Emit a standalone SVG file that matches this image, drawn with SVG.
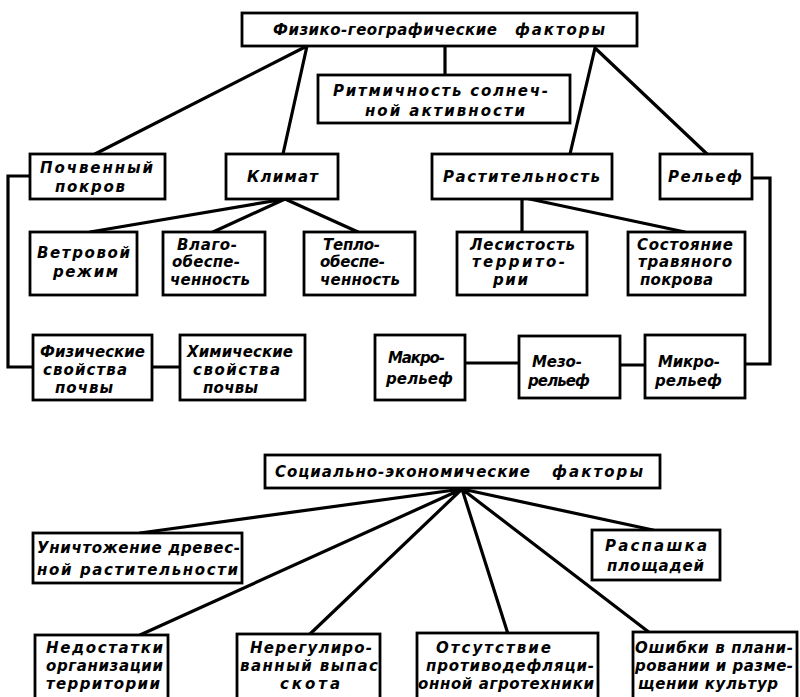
<svg xmlns="http://www.w3.org/2000/svg" width="800" height="697" viewBox="0 0 800 697">
<style>
.box{fill:#fff;stroke:#000;stroke-width:2.8}
.ln{fill:none;stroke:#000;stroke-width:3.2;stroke-linejoin:miter;stroke-linecap:round}
text{font-family:"DejaVu Sans","Liberation Sans",sans-serif;font-weight:bold;font-style:italic;font-size:15px;fill:#000}
</style>
<rect width="800" height="697" fill="#fff"/>
<g id="connectors">
<path class="ln" d="M307,46 L95,154 M307,46 L283,154 M445,46 L445,75 M595,48 L570,154 M595,48 L707,154"/>
<path class="ln" d="M30,176 L8,176 L8,367 L33,367 M152,367 L180,367"/>
<path class="ln" d="M285,199 L90,232 M285,199 L213,232 M285,199 L358,232"/>
<path class="ln" d="M522,198 L522,232 M525,198 L685,232"/>
<path class="ln" d="M752,178 L770,178 L770,364 L745,364 M465,363 L519,363 M620,365 L645,365"/>
<path class="ln" d="M462,489 L140,533 M462,489 L653,530 M462,489 L140,635 M462,489 L310,634 M462,489 L508,634 M462,489 L650,633"/>
</g>
<g id="n-phys"><rect class="box" x="242" y="13" width="395" height="33"/>
<text x="273" y="35" textLength="224">Физико-географические</text><text x="515" y="35" textLength="90">факторы</text></g>
<g id="n-ritm"><rect class="box" x="318" y="75" width="252" height="48"/>
<text x="333" y="96" textLength="215">Ритмичность солнеч-</text><text x="365" y="116" textLength="160">ной активности</text></g>
<g id="n-pochv"><rect class="box" x="30" y="154" width="135" height="45"/>
<text x="40" y="173" textLength="113">Почвенный</text><text x="55" y="192" textLength="70">покров</text></g>
<g id="n-klimat"><rect class="box" x="226" y="154" width="112" height="45"/>
<text x="247" y="182" textLength="71">Климат</text></g>
<g id="n-rast"><rect class="box" x="432" y="154" width="180" height="45"/>
<text x="443" y="182" textLength="157">Растительность</text></g>
<g id="n-relef"><rect class="box" x="660" y="154" width="92" height="45"/>
<text x="668" y="182" textLength="74">Рельеф</text></g>
<g id="n-veter"><rect class="box" x="30" y="232" width="107" height="63"/>
<text x="37" y="258" textLength="93">Ветровой</text><text x="53" y="277" textLength="65">режим</text></g>
<g id="n-vlago"><rect class="box" x="163" y="232" width="102" height="63"/>
<text x="177" y="250" textLength="60">Влаго-</text><text x="172" y="267" textLength="68">обеспе-</text><text x="170" y="285" textLength="80">ченность</text></g>
<g id="n-teplo"><rect class="box" x="304" y="232" width="111" height="63"/>
<text x="323" y="250" textLength="57">Тепло-</text><text x="320" y="267" textLength="65">обеспе-</text><text x="320" y="285" textLength="80">ченность</text></g>
<g id="n-les"><rect class="box" x="457" y="232" width="130" height="63"/>
<text x="470" y="250" textLength="105">Лесистость</text><text x="472" y="267" textLength="93">террито-</text><text x="493" y="285" textLength="35">рии</text></g>
<g id="n-sost"><rect class="box" x="628" y="232" width="117" height="63"/>
<text x="637" y="250" textLength="96">Состояние</text><text x="638" y="267" textLength="94">травяного</text><text x="640" y="285" textLength="73">покрова</text></g>
<g id="n-fiz"><rect class="box" x="33" y="335" width="119" height="65"/>
<text x="40" y="357" textLength="105">Физические</text><text x="43" y="375" textLength="84">свойства</text><text x="55" y="393" textLength="58">почвы</text></g>
<g id="n-xim"><rect class="box" x="180" y="335" width="125" height="65"/>
<text x="187" y="357" textLength="106">Химические</text><text x="193" y="375" textLength="87">свойства</text><text x="203" y="393" textLength="55">почвы</text></g>
<g id="n-makro"><rect class="box" x="375" y="335" width="90" height="65"/>
<text x="388" y="363" textLength="57">Макро-</text><text x="386" y="384" textLength="67">рельеф</text></g>
<g id="n-mezo"><rect class="box" x="519" y="336" width="101" height="62"/>
<text x="532" y="367" textLength="50">Мезо-</text><text x="528" y="386" textLength="62">рельеф</text></g>
<g id="n-mikro"><rect class="box" x="645" y="335" width="100" height="63"/>
<text x="658" y="367" textLength="62">Микро-</text><text x="655" y="386" textLength="67">рельеф</text></g>
<g id="n-soc"><rect class="box" x="265" y="455" width="395" height="33"/>
<text x="275" y="477" textLength="255">Социально-экономические</text><text x="552" y="477" textLength="91">факторы</text></g>
<g id="n-unich"><rect class="box" x="33" y="533" width="209" height="50"/>
<text x="37" y="553" textLength="203">Уничтожение древес-</text><text x="37" y="575" textLength="201">ной растительности</text></g>
<g id="n-rasp"><rect class="box" x="592" y="530" width="128" height="50"/>
<text x="605" y="551" textLength="102">Распашка</text><text x="607" y="571" textLength="97">площадей</text></g>
<g id="n-nedost"><rect class="box" x="35" y="635" width="133" height="66"/>
<text x="46" y="653" textLength="117">Недостатки</text><text x="46" y="671" textLength="117">организации</text><text x="46" y="689" textLength="114">территории</text></g>
<g id="n-nereg"><rect class="box" x="237" y="634" width="143" height="67"/>
<text x="250" y="653" textLength="122">Нерегулиро-</text><text x="240" y="671" textLength="138">ванный выпас</text><text x="280" y="689" textLength="60">скота</text></g>
<g id="n-otsut"><rect class="box" x="417" y="633" width="181" height="68"/>
<text x="436" y="653" textLength="115">Отсутствие</text><text x="426" y="671" textLength="168">противодефляци-</text><text x="418" y="689" textLength="176">онной агротехники</text></g>
<g id="n-oshib"><rect class="box" x="633" y="632" width="164" height="69"/>
<text x="635" y="653" textLength="158">Ошибки в плани-</text><text x="635" y="671" textLength="158">ровании и разме-</text><text x="638" y="689" textLength="140">щении культур</text></g>
</svg>
